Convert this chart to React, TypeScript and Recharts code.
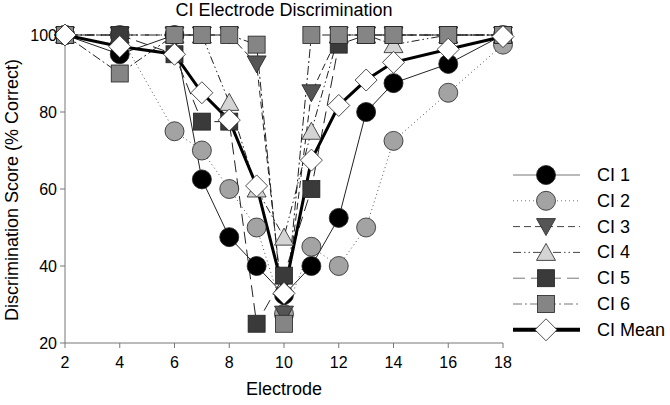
import React from "react";
import { LineChart, Line, XAxis, YAxis, Label } from "recharts";

const electrodes = [2, 4, 6, 7, 8, 9, 10, 11, 12, 13, 14, 16, 18];
const ci1 = [100, 95, 100, 62.5, 47.5, 40, 32.5, 40, 52.5, 80, 87.5, 92.5, 100];
const ci2 = [100, 100, 75, 70, 60, 50, 27.5, 45, 40, 50, 72.5, 85, 97.5];
const ci3 = [100, 100, 100, 100, 100, 92.5, 27.5, 85, 100, 100, 100, 100, 100];
const ci4 = [100, 100, 100, 100, 82.5, 60, 47.5, 75, 100, 100, 97.5, 100, 100];
const ci5 = [100, 100, 95, 77.5, 77.5, 25, 37.5, 60, 97.5, 100, 100, 100, 100];
const ci6 = [100, 90, 100, 100, 100, 97.5, 25, 100, 100, 100, 100, 100, 100];
const ciMean = [100, 97, 95, 85, 77.9, 60.8, 32.9, 67.5, 81.7, 88.3, 92.9, 96.3, 99.6];

const xTicks = [2, 4, 6, 8, 10, 12, 14, 16, 18];
const yTicks = [20, 40, 60, 80, 100];

const data = electrodes.map((e, i) => ({
  e,
  ci1: ci1[i],
  ci2: ci2[i],
  ci3: ci3[i],
  ci4: ci4[i],
  ci5: ci5[i],
  ci6: ci6[i],
  mean: ciMean[i],
}));

const FONT = "'Liberation Sans', Arial, sans-serif";
const EDGE = "#222";

type Shape = "circle" | "down" | "up" | "square" | "diamond";

function Marker({ shape, cx, cy, fill }: { shape: Shape; cx: number; cy: number; fill: string }) {
  if (shape === "circle")
    return <circle cx={cx} cy={cy} r={9.5} fill={fill} stroke={EDGE} strokeWidth={0.8} />;
  if (shape === "down")
    return (
      <polygon
        points={`${cx - 9.5},${cy - 8} ${cx + 9.5},${cy - 8} ${cx},${cy + 9}`}
        fill={fill}
        stroke={EDGE}
        strokeWidth={0.8}
      />
    );
  if (shape === "up")
    return (
      <polygon
        points={`${cx - 9.5},${cy + 8} ${cx + 9.5},${cy + 8} ${cx},${cy - 9}`}
        fill={fill}
        stroke={EDGE}
        strokeWidth={0.8}
      />
    );
  if (shape === "square")
    return <rect x={cx - 8.5} y={cy - 8.5} width={17} height={17} fill={fill} stroke={EDGE} strokeWidth={0.8} />;
  return (
    <polygon
      points={`${cx},${cy - 11} ${cx + 11},${cy} ${cx},${cy + 11} ${cx - 11},${cy}`}
      fill={fill}
      stroke={EDGE}
      strokeWidth={0.8}
    />
  );
}

const series = [
  { key: "ci1", name: "CI 1", shape: "circle" as Shape, fill: "#000", dash: undefined, width: 1, color: "#222", legendColor: "#777" },
  { key: "ci2", name: "CI 2", shape: "circle" as Shape, fill: "#a3a3a3", dash: "1 3", width: 1, color: "#555", legendColor: "#777" },
  { key: "ci3", name: "CI 3", shape: "down" as Shape, fill: "#555", dash: "7 4", width: 1, color: "#222", legendColor: "#444" },
  { key: "ci4", name: "CI 4", shape: "up" as Shape, fill: "#d4d4d4", dash: "8 3 1.5 3 1.5 3", width: 1, color: "#222", legendColor: "#444" },
  { key: "ci5", name: "CI 5", shape: "square" as Shape, fill: "#3a3a3a", dash: "12 6", width: 1, color: "#222", legendColor: "#777" },
  { key: "ci6", name: "CI 6", shape: "square" as Shape, fill: "#858585", dash: "9 3 2 3", width: 1, color: "#222", legendColor: "#777" },
  { key: "mean", name: "CI Mean", shape: "diamond" as Shape, fill: "#fff", dash: undefined, width: 3, color: "#000", legendColor: "#000" },
];

function Legend() {
  return (
    <svg
      width={670}
      height={405}
      style={{ position: "absolute", left: 0, top: 0, pointerEvents: "none" }}
    >
      {series.map((s, i) => {
        const y = 175 + i * 25.8;
        return (
          <g key={s.key}>
            <line
              x1={513}
              x2={580}
              y1={y}
              y2={y}
              stroke={s.legendColor}
              strokeWidth={s.key === "mean" ? 4 : 1}
              strokeDasharray={s.dash}
            />
            <Marker shape={s.shape} cx={546} cy={y} fill={s.fill} />
            <text x={597} y={y} dominantBaseline="central" fontSize={18} fontFamily={FONT} fill="#000">
              {s.name}
            </text>
          </g>
        );
      })}
    </svg>
  );
}

export default function App() {
  return (
    <div style={{ position: "absolute", left: 0, top: 0, width: 670, height: 405, background: "#fff" }}>
      <div
        style={{
          position: "absolute",
          left: 0,
          top: 1,
          width: 568,
          textAlign: "center",
          fontFamily: FONT,
          fontSize: 18,
          lineHeight: "18px",
          color: "#000",
        }}
      >
        CI Electrode Discrimination
      </div>
      <LineChart width={670} height={405} data={data} margin={{ top: 35, right: 167, bottom: 0, left: 0 }}>
        <XAxis
          dataKey="e"
          type="number"
          domain={[2, 18]}
          ticks={xTicks}
          stroke="#777"
          tickSize={5}
          tickMargin={9}
          height={62}
          tick={{ fill: "#000", fontSize: 16, fontFamily: FONT }}
        >
          <Label
            content={() => (
              <text x={284} y={395} textAnchor="middle" fontSize={18} fontFamily={FONT} fill="#000">
                Electrode
              </text>
            )}
          />
        </XAxis>
        <YAxis
          type="number"
          domain={[20, 100]}
          ticks={yTicks}
          stroke="#777"
          width={65}
          tickSize={5}
          tickMargin={3}
          tick={{ fill: "#000", fontSize: 16, fontFamily: FONT }}
        >
          <Label
            content={() => (
              <text
                x={18}
                y={190}
                transform="rotate(-90 18 190)"
                textAnchor="middle"
                fontSize={18}
                fontFamily={FONT}
                fill="#000"
              >
                Discrimination Score (% Correct)
              </text>
            )}
          />
        </YAxis>
        <YAxis
          yAxisId="r"
          orientation="right"
          domain={[20, 100]}
          width={0}
          tick={false}
          tickLine={false}
          stroke="#555"
        />
        {series.map((s) => (
          <Line
            key={s.key}
            dataKey={s.key}
            name={s.name}
            type="linear"
            stroke={s.color}
            strokeWidth={s.width}
            strokeDasharray={s.dash}
            isAnimationActive={false}
            dot={(p: any) => (
              <g key={`${s.key}-${p.index}`}>
                <Marker shape={s.shape} cx={p.cx} cy={p.cy} fill={s.fill} />
              </g>
            )}
            activeDot={false}
          />
        ))}
      </LineChart>
      <Legend />
    </div>
  );
}
